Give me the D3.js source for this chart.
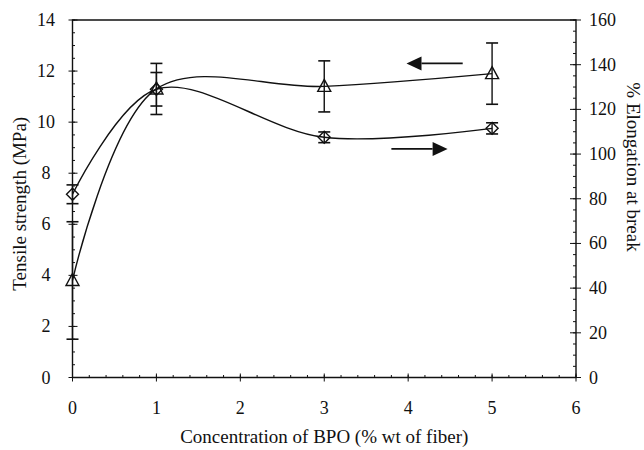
<!DOCTYPE html>
<html>
<head>
<meta charset="utf-8">
<script src="https://cdn.jsdelivr.net/npm/d3@7"></script>
<style>
  body { margin: 0; background: #fff; }
</style>
</head>
<body>
<div id="chart"></div>
<script>
// concentration of BPO (% wt of fiber)
const conc = [0, 1, 3, 5]
// tensile strength (MPa), left axis
const tensile = [3.8, 11.3, 11.4, 11.9]
const tensileErr = [2.3, 1.0, 1.0, 1.2]
// elongation at break (%), right axis
const elongation = [82, 129, 107.5, 111.5]
const elongationErr = [4.2, 7.5, 2.4, 2.5]

const xTicks = [0, 1, 2, 3, 4, 5, 6]
const leftTicks = [0, 2, 4, 6, 8, 10, 12, 14]
const rightTicks = [0, 20, 40, 60, 80, 100, 120, 140, 160]

// direction arrows: [x0, x1, value] in data units
const tensileArrow = [4.65, 3.98, 12.3]
const elongationArrow = [3.8, 4.47, 102.3]

const width = 644
const height = 450
const margin = { top: 20, right: 68, bottom: 72.5, left: 72.5 }
const ink = '#111'
const serif = "'Liberation Serif', 'DejaVu Serif', serif"

const svg = d3.select('#chart').append('svg')
  .attr('width', width)
  .attr('height', height)
  .attr('font-family', serif)

const x = d3.scaleLinear().domain([0, 6]).range([margin.left, width - margin.right])
const yL = d3.scaleLinear().domain([0, 14]).range([height - margin.bottom, margin.top])
const yR = d3.scaleLinear().domain([0, 160]).range([height - margin.bottom, margin.top])

const x0 = x(0), x1 = x(6), yb = yL(0), yt = yL(14)

function label(px, py, txt, size) {
  return svg.append('text').attr('x', px).attr('y', py)
    .attr('font-family', serif).attr('font-size', size).attr('fill', ink).text(txt)
}

// frame
svg.append('path')
  .attr('d', `M${x0},${yb} L${x0},${yt} L${x1},${yt} L${x1},${yb} Z`)
  .attr('fill', 'none').attr('stroke', ink).attr('stroke-width', 1.4)

// minor ticks
const g = svg.append('g').attr('stroke', ink).attr('stroke-width', 1)
d3.range(0, 6.001, 0.2).forEach(v => {
  g.append('line').attr('x1', x(v)).attr('x2', x(v)).attr('y1', yb).attr('y2', yb - 2.5)
})
d3.range(0, 14.001, 0.5).forEach(v => {
  g.append('line').attr('x1', x0).attr('x2', x0 + 2.5).attr('y1', yL(v)).attr('y2', yL(v))
})
d3.range(0, 160.001, 5).forEach(v => {
  g.append('line').attr('x1', x1).attr('x2', x1 - 3).attr('y1', yR(v)).attr('y2', yR(v))
})

// major ticks and labels
xTicks.forEach(v => {
  g.append('line').attr('x1', x(v)).attr('x2', x(v)).attr('y1', yb - 4).attr('y2', yb + 4)
  label(x(v), 414, v, 18).attr('text-anchor', 'middle')
})
leftTicks.forEach(v => {
  g.append('line').attr('x1', x0 - 4).attr('x2', x0 + 5).attr('y1', yL(v)).attr('y2', yL(v))
  label(46, yL(v) + 6, v, 18).attr('text-anchor', 'middle')
})
rightTicks.forEach(v => {
  g.append('line').attr('x1', x1 - 6).attr('x2', x1 + 5).attr('y1', yR(v)).attr('y2', yR(v))
  label(589, yR(v) + 6, v, 18)
})

// axis titles
label(0, 0, 'Tensile strength (MPa)', 19)
  .attr('transform', `translate(26,${(yb + yt) / 2 + 5}) rotate(-90)`)
  .attr('text-anchor', 'middle')
label(0, 0, '% Elongation at break', 19)
  .attr('transform', `translate(627,167) rotate(90)`)
  .attr('text-anchor', 'middle')
label((x0 + x1) / 2, 443, 'Concentration of BPO (% wt of fiber)', 19)
  .attr('text-anchor', 'middle')

// smooth lines
const curve = d3.curveCatmullRom.alpha(0.5)
const tensileLine = d3.line().x((d, i) => x(conc[i])).y(d => yL(d)).curve(curve)
const elongLine = d3.line().x((d, i) => x(conc[i])).y(d => yR(d)).curve(curve)

svg.append('path').attr('d', tensileLine(tensile))
  .attr('fill', 'none').attr('stroke', ink).attr('stroke-width', 1.4)
svg.append('path').attr('d', elongLine(elongation))
  .attr('fill', 'none').attr('stroke', ink).attr('stroke-width', 1.4)

// error bars
function errorBars(values, errs, scale) {
  values.forEach((v, i) => {
    const cx = x(conc[i])
    const lo = scale(v - errs[i]), hi = scale(v + errs[i])
    svg.append('line').attr('x1', cx).attr('x2', cx).attr('y1', lo).attr('y2', hi)
      .attr('stroke', ink).attr('stroke-width', 1.4)
    ;[lo, hi].forEach(yy => {
      svg.append('line').attr('x1', cx - 6).attr('x2', cx + 6).attr('y1', yy).attr('y2', yy)
        .attr('stroke', ink).attr('stroke-width', 1.6)
    })
  })
}
errorBars(tensile, tensileErr, yL)
errorBars(elongation, elongationErr, yR)

// markers
tensile.forEach((v, i) => {
  const cx = x(conc[i]), cy = yL(v)
  svg.append('path')
    .attr('d', `M${cx},${cy - 7} L${cx + 6.5},${cy + 5} L${cx - 6.5},${cy + 5} Z`)
    .attr('fill', 'none').attr('stroke', ink).attr('stroke-width', 1.4)
})
elongation.forEach((v, i) => {
  const cx = x(conc[i]), cy = yR(v)
  svg.append('path')
    .attr('d', `M${cx},${cy - 6} L${cx + 6},${cy} L${cx},${cy + 6} L${cx - 6},${cy} Z`)
    .attr('fill', 'none').attr('stroke', ink).attr('stroke-width', 1.4)
})

// arrows
function arrow(a, scale) {
  const xa = x(a[0]), xb = x(a[1]), yy = scale(a[2])
  const dir = Math.sign(xb - xa)
  const base = xb - dir * 15
  svg.append('line').attr('x1', xa).attr('x2', base).attr('y1', yy).attr('y2', yy)
    .attr('stroke', ink).attr('stroke-width', 1.6)
  svg.append('path')
    .attr('d', `M${xb},${yy} L${base},${yy - 7} L${base},${yy + 7} Z`)
    .attr('fill', ink)
}
arrow(tensileArrow, yL)
arrow(elongationArrow, yR)
</script>
</body>
</html>
